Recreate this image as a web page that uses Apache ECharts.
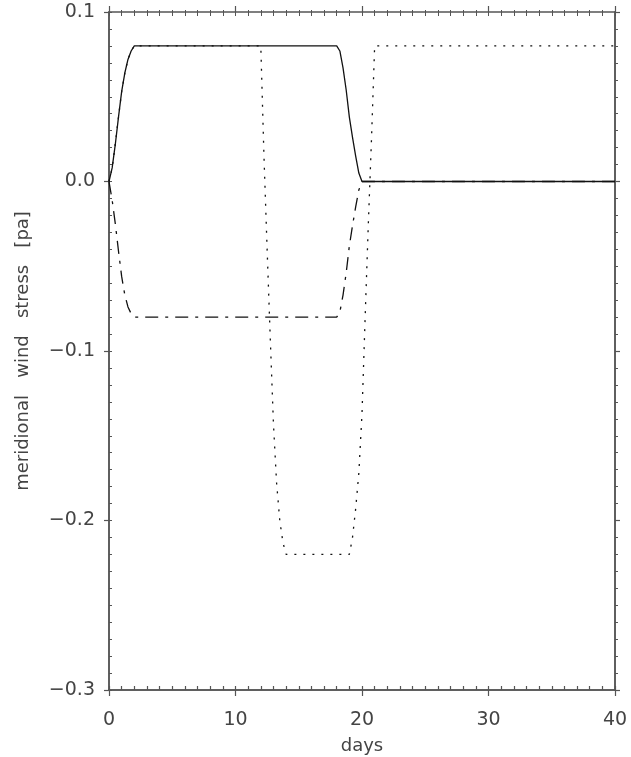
<!DOCTYPE html>
<html>
<head>
<meta charset="utf-8">
<script src="https://cdn.jsdelivr.net/npm/echarts@6/dist/echarts.min.js"></script>
<style>
  html, body { margin: 0; padding: 0; background: #fff; }
  #chart { width: 631px; height: 757px; }
</style>
</head>
<body>
<div id="chart"></div>
<script>
// Meridional wind stress forcing scenarios (pa) against time (days)
const solidDays = [0, 0.25, 0.5, 0.75, 1, 1.25, 1.5, 1.75, 2, 18, 18.25, 18.5, 18.75, 19, 19.25, 19.5, 19.75, 20, 40];
const solidVals = [0, 0.008, 0.022, 0.038, 0.053, 0.064, 0.072, 0.077, 0.08, 0.08, 0.077, 0.067, 0.054, 0.038, 0.026, 0.015, 0.005, 0, 0];

const dashDotDays = [0, 0.25, 0.5, 0.75, 1, 1.25, 1.5, 1.75, 2, 18, 18.25, 18.5, 18.75, 19, 19.25, 19.5, 19.75, 20, 40];
const dashDotVals = [0, -0.011, -0.025, -0.041, -0.056, -0.067, -0.074, -0.078, -0.08, -0.08, -0.077, -0.067, -0.054, -0.038, -0.026, -0.015, -0.005, 0, 0];

const dottedDays = [0, 0.25, 0.5, 0.75, 1, 1.25, 1.5, 1.75, 2, 12, 12.25, 12.5, 12.75, 13, 13.25, 13.5, 13.75, 14, 19, 19.25, 19.5, 19.75, 20, 20.25, 20.5, 20.75, 21, 40];
const dottedVals = [0, 0.008, 0.022, 0.038, 0.053, 0.064, 0.072, 0.077, 0.08, 0.08, 0.015, -0.040, -0.093, -0.143, -0.178, -0.200, -0.213, -0.22, -0.22, -0.210, -0.193, -0.172, -0.137, -0.080, -0.025, 0.025, 0.08, 0.08];

const xTicks = { min: 0, max: 40, interval: 10, minorInterval: 1 };
const yTicks = { min: -0.3, max: 0.1, interval: 0.1, minorInterval: 0.01 };

const FONT = 'DejaVu Sans';
const INK = '#444';
const AXIS = '#555';

function pairs(xs, ys) { return xs.map((x, i) => [x, ys[i]]); }
function yLabel(v) { return v.toFixed(1).replace('-', '\u2212'); }

const gridBox = { left: 109, right: 16, top: 12, bottom: 67, outerBoundsMode: 'none' };

// Every edge of the box is drawn more than once over the same rectangle:
// once with a tick every major step (outward) and once with a small
// tick every unit step.
function frameLine() {
  return { show: true, onZero: false, lineStyle: { color: AXIS, width: 1.5 } };
}
function xEdge(grid, pos, step, inside, len, withLabels) {
  return {
    type: 'value', gridIndex: grid, position: pos, min: xTicks.min, max: xTicks.max, interval: step,
    axisLine: frameLine(),
    axisTick: { show: true, inside: inside, length: len, lineStyle: { color: AXIS, width: 1.2 } },
    axisLabel: { show: withLabels, margin: 21, color: INK, fontFamily: FONT, fontSize: 19 },
    splitLine: { show: false }
  };
}
function yEdge(grid, pos, step, inside, len, withLabels) {
  return {
    type: 'value', gridIndex: grid, position: pos, min: yTicks.min, max: yTicks.max, interval: step,
    axisLine: frameLine(),
    axisTick: { show: true, inside: inside, length: len, lineStyle: { color: AXIS, width: len > 4 ? 1.2 : 1 } },
    axisLabel: { show: withLabels, margin: 14, color: INK, fontFamily: FONT, fontSize: 19, formatter: yLabel },
    splitLine: { show: false }
  };
}

const xBottom = xEdge(0, 'bottom', xTicks.interval, false, 6, true);
xBottom.name = 'days';
xBottom.nameLocation = 'middle';
xBottom.nameGap = 47;
xBottom.nameTextStyle = { color: INK, fontFamily: FONT, fontSize: 18 };

const yLeft = yEdge(0, 'left', yTicks.interval, false, 5, true);
yLeft.name = 'meridional   wind   stress   [pa]';
yLeft.nameLocation = 'middle';
yLeft.nameGap = 77;
yLeft.nameTextStyle = { color: INK, fontFamily: FONT, fontSize: 18 };

// Top edge: major ticks outward with short minor ticks on the same axis
const xTopMajor = xEdge(0, 'top', xTicks.interval, false, 6, false);
xTopMajor.minorTick = { show: true, splitNumber: 10, length: 2, lineStyle: { color: AXIS, width: 1 } };

// Top edge, hanging ticks: an invisible axis line pushed 4px into the box
// whose outward ticks reach back up to the frame.
const xTopHanging = xEdge(2, 'top', xTicks.minorInterval, false, 4, false);
xTopHanging.offset = -4;
xTopHanging.axisLine = { show: true, onZero: false, lineStyle: { color: AXIS, width: 1, opacity: 0 } };
xTopHanging.axisTick.lineStyle = { color: AXIS, width: 1, opacity: 1 };

function lineSeries(data, dash) {
  return {
    type: 'line', xAxisIndex: 0, yAxisIndex: 0, data: data,
    showSymbol: false, symbol: 'none', smooth: false, animation: false,
    lineStyle: { color: '#111', width: 1.3, type: dash }
  };
}

const option = {
  animation: false,
  backgroundColor: '#fff',
  grid: [Object.assign({}, gridBox), Object.assign({}, gridBox), Object.assign({}, gridBox)],
  xAxis: [
    xBottom,
    xTopMajor,
    xEdge(1, 'bottom', xTicks.minorInterval, true, 4, false),
    xTopHanging
  ],
  yAxis: [
    yLeft,
    yEdge(0, 'right', yTicks.minorInterval, false, 3, false),
    yEdge(1, 'left', yTicks.minorInterval, true, 3, false),
    yEdge(2, 'right', yTicks.interval, false, 5, false)
  ],
  series: [
    lineSeries(pairs(dottedDays, dottedVals), [2, 7]),
    lineSeries(pairs(dashDotDays, dashDotVals), [13, 7, 3, 7]),
    lineSeries(pairs(solidDays, solidVals), 'solid')
  ]
};

echarts.init(document.getElementById('chart'), null, { renderer: 'canvas' }).setOption(option);
</script>
</body>
</html>
